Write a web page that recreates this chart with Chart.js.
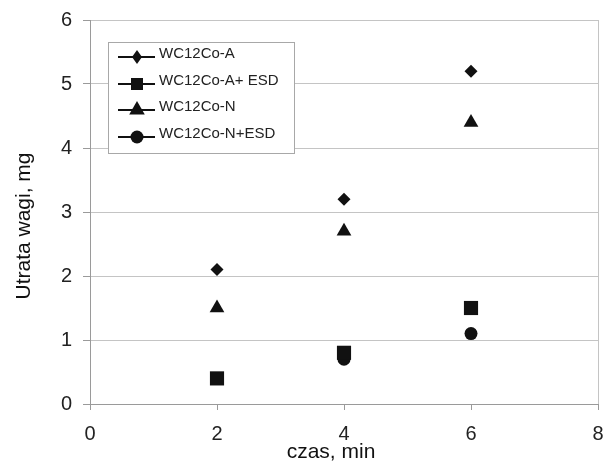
<!DOCTYPE html>
<html>
<head>
<meta charset="utf-8">
<script src="https://cdn.jsdelivr.net/npm/chart.js@4.4.1/dist/chart.umd.min.js"></script>
<style>
  html, body { margin: 0; padding: 0; background: #fff; }
  #wrap { width: 608px; height: 461px; }
</style>
</head>
<body>
<div id="wrap"><canvas id="chart"></canvas></div>
<script>
// データ
const czas = [2, 4, 6];
const wcA = [2.1, 3.2, 5.2];
const wcAesd = [0.4, 0.8, 1.5];
const wcN = [1.5, 2.7, 4.4];
const wcNesd = [0.4, 0.7, 1.1];
const labels = ['WC12Co-A', 'WC12Co-A+ ESD', 'WC12Co-N', 'WC12Co-N+ESD'];
const xTicks = [0, 2, 4, 6, 8];
const yTicks = [0, 1, 2, 3, 4, 5, 6];
const xTitle = 'czas, min';
const yTitle = 'Utrata wagi, mg';

const black = '#111111';
const gridGray = '#c4c4c4';
const axisGray = '#9a9a9a';
const fontFamily = "'Liberation Sans', Arial, Helvetica, sans-serif";

function pts(ys) {
    return czas.map((x, i) => ({ x: x, y: ys[i] }));
}

function makeSet(label, ys, style, radius) {
    return {
        label: label,
        data: pts(ys),
        showLine: false,
        pointStyle: style,
        pointRadius: radius,
        pointHoverRadius: radius,
        pointBackgroundColor: black,
        pointBorderColor: black,
        pointBorderWidth: 0,
        borderColor: black,
        backgroundColor: black
    };
}

// 凡例マーカーの大きさ（半径, 幅）
const legendMarks = [
    { r: 7, w: 10 },
    { r: 8.5, w: 0 },
    { r: 9, w: 0 },
    { r: 6.5, w: 0 }
];

// 凡例（線＋マーカー）と軸タイトル
const legendBox = {
    id: 'legendBox',
    afterDraw(chart) {
        const ctx = chart.ctx;
        const x0 = 108, y0 = 42, w = 186, h = 111;
        ctx.save();
        ctx.fillStyle = '#fff';
        ctx.fillRect(x0, y0, w, h);
        ctx.strokeStyle = '#a8a8a8';
        ctx.lineWidth = 1;
        ctx.strokeRect(x0 + 0.5, y0 + 0.5, w, h);
        const rowY = [57, 84, 110, 137];
        chart.data.datasets.forEach((ds, i) => {
            const y = rowY[i];
            ctx.strokeStyle = black;
            ctx.lineWidth = 2;
            ctx.beginPath();
            ctx.moveTo(118, y);
            ctx.lineTo(155, y);
            ctx.stroke();
            ctx.fillStyle = black;
            ctx.strokeStyle = black;
            ctx.lineWidth = 0;
            Chart.helpers.drawPointLegend(ctx, {
                pointStyle: ds.pointStyle,
                radius: legendMarks[i].r,
                borderWidth: 0,
                rotation: 0
            }, 137, y, legendMarks[i].w || undefined);
            ctx.font = '15px ' + fontFamily;
            ctx.fillStyle = '#222';
            ctx.textBaseline = 'middle';
            ctx.textAlign = 'left';
            ctx.fillText(ds.label, 159, y - 3);
        });

        // 軸タイトル
        ctx.fillStyle = '#111';
        ctx.font = '21px ' + fontFamily;
        ctx.textAlign = 'center';
        ctx.textBaseline = 'middle';
        ctx.fillText(xTitle, 331, 452);
        ctx.translate(24, 226);
        ctx.rotate(-Math.PI / 2);
        ctx.fillText(yTitle, 0, 0);
        ctx.restore();
    }
};

new Chart(document.getElementById('chart'), {
    type: 'scatter',
    data: {
        datasets: [
            makeSet(labels[0], wcA, 'rectRot', 6.5),
            makeSet(labels[1], wcAesd, 'rect', 10),
            makeSet(labels[2], wcN, 'triangle', 8.5),
            makeSet(labels[3], wcNesd, 'circle', 6.5)
        ]
    },
    options: {
        responsive: true,
        maintainAspectRatio: false,
        animation: false,
        layout: { padding: { left: 0, top: 20, right: 10, bottom: 0 } },
        plugins: {
            legend: { display: false },
            tooltip: { enabled: false }
        },
        scales: {
            x: {
                type: 'linear',
                min: 0,
                max: 8,
                afterBuildTicks: s => { s.ticks = xTicks.map(v => ({ value: v })); },
                afterFit: s => {
                    s.height = 57;
                    s.paddingLeft = 0;
                    s.paddingRight = 0;
                },
                border: { color: axisGray, width: 1 },
                grid: {
                    color: c => (c.tick && c.tick.value === 8 ? gridGray : 'rgba(0,0,0,0)'),
                    tickColor: axisGray,
                    tickLength: 6,
                    lineWidth: 1
                },
                ticks: {
                    color: '#222',
                    font: { family: fontFamily, size: 20 },
                    padding: 12,
                    maxRotation: 0
                }
            },
            y: {
                type: 'linear',
                min: 0,
                max: 6,
                afterBuildTicks: s => { s.ticks = yTicks.map(v => ({ value: v })); },
                afterFit: s => {
                    s.width = 90;
                    s.paddingTop = 0;
                    s.paddingBottom = 0;
                },
                border: { color: axisGray, width: 1 },
                grid: {
                    color: gridGray,
                    tickColor: axisGray,
                    tickLength: 7,
                    lineWidth: 1
                },
                ticks: {
                    color: '#222',
                    font: { family: fontFamily, size: 20 },
                    padding: 11
                }
            }
        }
    },
    plugins: [legendBox]
});
</script>
</body>
</html>
